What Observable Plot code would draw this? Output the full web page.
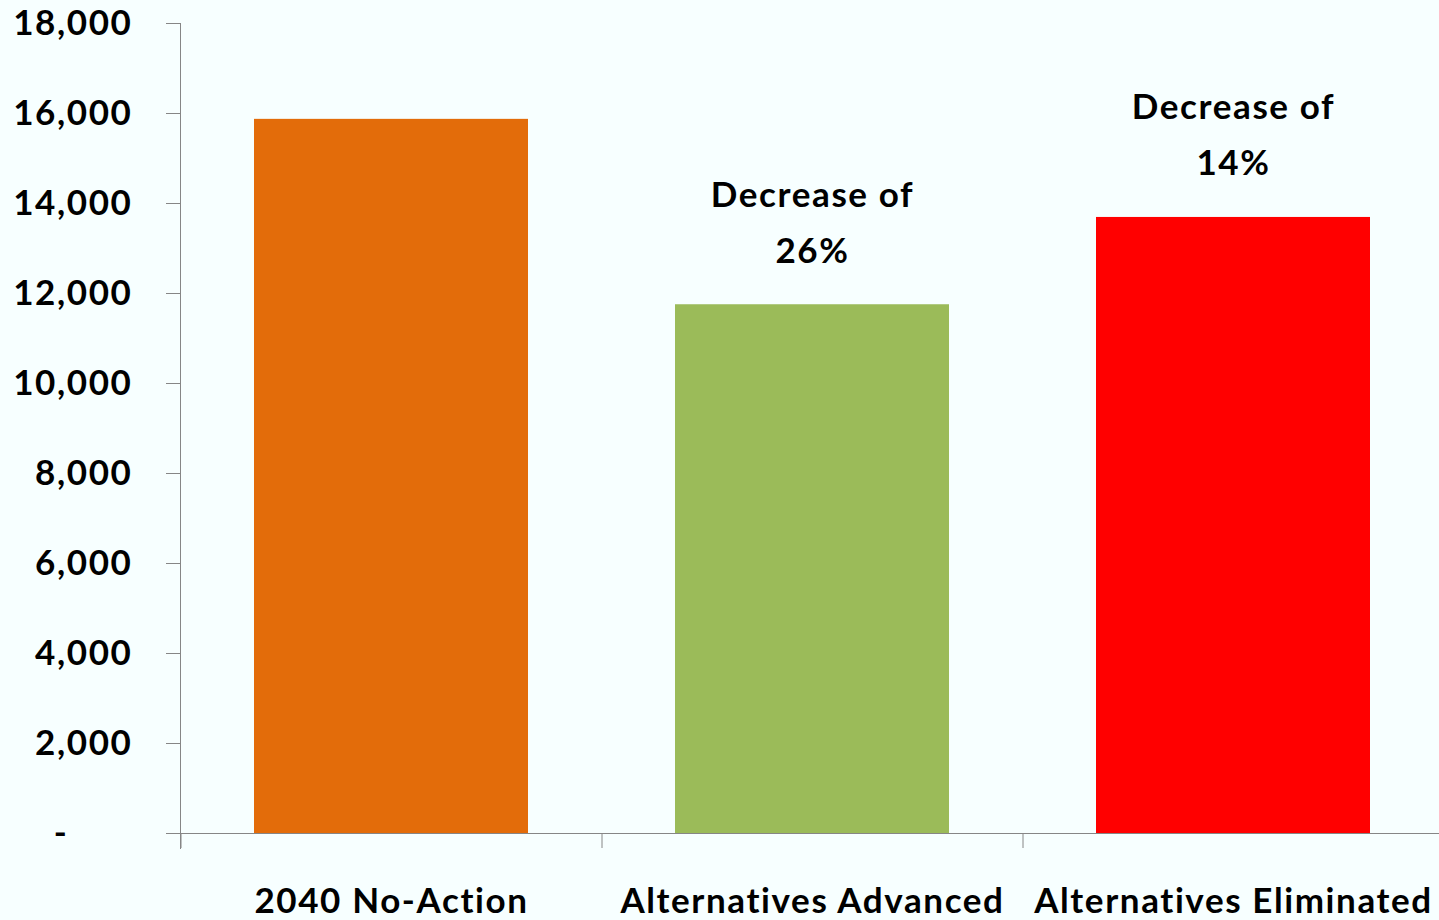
<!DOCTYPE html>
<html>
<head>
<meta charset="utf-8">
<script src="https://cdn.jsdelivr.net/npm/d3@7"></script>
<script src="https://cdn.jsdelivr.net/npm/@observablehq/plot@0.6"></script>
<style>
  html, body { margin: 0; padding: 0; background: #f7ffff; overflow: hidden; }
</style>
</head>
<body>
<div id="chart"></div>
<script>
const categories = ["2040 No-Action", "Alternatives Advanced", "Alternatives Eliminated"];
const values = [15870, 11750, 13690];
const notes = ["", "Decrease of\n26%", "Decrease of\n14%"];
const colors = ["#E36C0A", "#9BBB59", "#FF0000"];
const yTicks = [0, 2000, 4000, 6000, 8000, 10000, 12000, 14000, 16000, 18000];

const data = categories.map((c, i) => ({cat: c, value: values[i], note: notes[i]}));

const W = 1439, H = 920;
const mLeft = 180, mRight = -4;
const xStep = (W - mRight - mLeft) / categories.length;
const axisColor = "#868686";
const fs = 35;

const plot = Plot.plot({
  width: W,
  height: H,
  marginTop: 23,
  marginBottom: 87,
  marginLeft: mLeft,
  marginRight: mRight,
  style: {background: "#f7ffff", fontFamily: "Lato, 'Open Sans', sans-serif", fontWeight: 700, fontSize: fs + "px", letterSpacing: "1.6px", color: "black"},
  x: {domain: categories, paddingInner: 0.35, paddingOuter: 0.175, label: null},
  y: {domain: [0, 18000], label: null},
  color: {domain: categories, range: colors},
  marks: [
    Plot.barY(data, {x: "cat", y: "value", fill: "cat"}),
    Plot.axisY(yTicks.filter(d => d > 0), {tickSize: 14, tickPadding: 34, tickFormat: d3.format(","), stroke: axisColor, fill: "black", fontSize: fs, label: null}),
    Plot.axisY([0], {tickSize: 14, tickPadding: 98, tickFormat: () => "-", stroke: axisColor, fill: "black", fontSize: fs, label: null}),
    Plot.axisX({tickSize: 0, tickPadding: 55, fill: "black", fontSize: fs, label: null}),
    Plot.frame({anchor: "left", stroke: axisColor, insetBottom: -15}),
    Plot.ruleY([0], {stroke: axisColor, insetLeft: -14}),
    Plot.ruleX(categories, {x: d => d, y1: 0, y2: 0, dx: -xStep / 2, insetBottom: -15, stroke: axisColor}),
    Plot.text(data.filter(d => d.note), {x: "cat", y: "value", text: "note", lineAnchor: "bottom", dy: -42, lineHeight: 1.6, fill: "black", fontSize: fs, fontWeight: 700})
  ]
});
document.getElementById("chart").appendChild(plot);
</script>
</body>
</html>
